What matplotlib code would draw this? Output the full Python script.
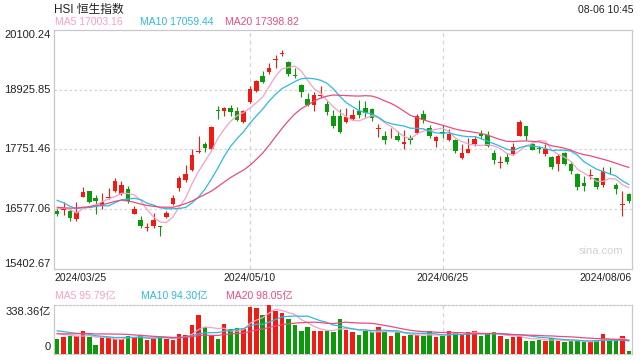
import matplotlib
matplotlib.use("Agg")
import matplotlib.pyplot as plt
import numpy as np
import pandas as pd

plt.rcParams["font.family"] = ["Liberation Sans", "Noto Sans CJK SC", "DejaVu Sans"]

# 19 sessions before the first candle, only used to warm up the moving averages
prior_close = [16790, 16536, 16511, 16589, 16596, 16163, 16438, 16230, 16353, 16588,
               17093, 17082, 16961, 16721, 16737, 16529, 16543, 16863, 16499]
prior_vol = [110, 125, 115, 120, 118, 122, 112, 125, 120, 113,
             170, 185, 175, 180, 170, 160, 150, 155, 152]

# daily candles 2024/03/25 .. 2024/08/06 (open, high, low, close), volume in 亿
opens = [16545, 16564, 16545, 16381, 16818, 16930, 16792, 16642, 16800, 16936,
         16884, 16981, 16492, 16362, 16205, 16251, 16251, 16434, 16675, 16988,
         17151, 17347, 17705, 17850, 17765, 18535, 18502, 18567, 18515, 18300,
         18678, 18906, 19200, 19265, 19515, 19636, 19474, 19220, 19024, 18750,
         18619, 18800, 18652, 18417, 18417, 18287, 18352, 18502, 18574, 18548,
         18160, 18026, 18068, 18026, 17850, 17973, 18078, 18450, 18176, 17915,
         18085, 17934, 17947, 17588, 17686, 17869, 18065, 18045, 17673, 17485,
         17608, 17654, 18026, 18208, 17850, 17778, 17654, 17608, 17458, 17673,
         17458, 17269, 17086, 17225, 17197, 17047, 17308, 17047, 16670, 16871]
highs = [16610, 16720, 16577, 16720, 17008, 16935, 16858, 16903, 16988, 17190,
         17132, 17034, 16642, 16447, 16316, 16512, 16255, 16544, 16851, 17230,
         17438, 17752, 18026, 17908, 18221, 18613, 18587, 18632, 18580, 18535,
         18991, 19122, 19304, 19461, 19611, 19709, 19500, 19350, 19030, 18861,
         18874, 18991, 18697, 18535, 18548, 18567, 18548, 18730, 18710, 18567,
         18260, 18110, 18169, 18110, 18130, 18045, 18456, 18535, 18241, 18026,
         18241, 18156, 17960, 17869, 17980, 18013, 18143, 18110, 17739, 17621,
         17673, 17882, 18326, 18221, 17895, 17817, 17869, 17621, 17654, 17700,
         17523, 17282, 17230, 17360, 17200, 17412, 17412, 17086, 16936, 16903]
lows = [16447, 16460, 16349, 16349, 16810, 16694, 16492, 16577, 16773, 16916,
        16858, 16708, 16479, 16218, 16153, 16218, 16055, 16414, 16662, 16936,
        17112, 17328, 17686, 17700, 17752, 18352, 18404, 18417, 18306, 18274,
        18665, 18874, 19056, 19245, 19350, 19590, 19187, 19154, 18782, 18600,
        18515, 18763, 18437, 18169, 18078, 18274, 18326, 18371, 18391, 18306,
        18000, 17850, 17973, 17928, 17765, 17869, 18065, 18274, 17980, 17797,
        17980, 17915, 17686, 17569, 17673, 17817, 17960, 17804, 17458, 17393,
        17458, 17634, 18013, 17947, 17732, 17673, 17621, 17373, 17321, 17438,
        17262, 16955, 16936, 17164, 16981, 17021, 17262, 16884, 16447, 16694]
closes = [16492, 16597, 16401, 16525, 16916, 16727, 16747, 16714, 16808, 17125,
          17060, 16734, 16577, 16251, 16215, 16362, 16231, 16512, 16805, 17184,
          17262, 17634, 17713, 17784, 18195, 18502, 18567, 18489, 18326, 18502,
          18939, 19089, 19069, 19350, 19526, 19644, 19233, 19193, 18874, 18619,
          18815, 18808, 18482, 18221, 18091, 18384, 18437, 18437, 18469, 18365,
          18169, 17941, 18078, 17947, 17908, 17947, 18417, 18339, 18026, 18006,
          18072, 18065, 17719, 17686, 17752, 17967, 18026, 17817, 17543, 17491,
          17504, 17804, 18287, 18026, 17739, 17771, 17752, 17406, 17621, 17458,
          17328, 17014, 17034, 17230, 17021, 17328, 17302, 16969, 16675, 16740]
volumes = [103, 115, 122, 122, 161, 115, 64, 115, 115, 106,
           106, 126, 115, 133, 99, 106, 115, 106, 99, 140,
           133, 202, 271, 184, 122, 103, 209, 175, 182, 172,
           322, 315, 267, 338.36, 299, 283, 244, 202, 161, 184,
           161, 156, 156, 150, 244, 168, 150, 129, 156, 150,
           184, 156, 122, 150, 122, 129, 133, 122, 156, 115,
           122, 156, 150, 133, 150, 161, 122, 138, 150, 122,
           106, 115, 122, 92, 92, 99, 87, 110, 92, 81,
           87, 94, 81, 81, 99, 140, 87, 87, 126, 23]

tick_idx = [0, 30, 60, 89]
tick_labels = ["2024/03/25", "2024/05/10", "2024/06/25", "2024/08/06"]
price_ticks = [20100.24, 18925.85, 17751.46, 16577.06, 15402.67]
vol_top_label = "338.36亿"
ma_price_text = ["MA5 17003.16", "MA10 17059.44", "MA20 17398.82"]
ma_vol_text = ["MA5 95.79亿", "MA10 94.30亿", "MA20 98.05亿"]

RED, GREEN = "#f01c14", "#0c9a0c"
MA_COLORS = ["#f7a1c4", "#2cbadf", "#ea4c7e"]
GRID = "#d4d4d4"
SPINE = "#c8c8c8"

o, h, l, c = (np.array(a, float) for a in (opens, highs, lows, closes))
vol = np.array(volumes, float)
n = len(c)
x = np.arange(n)
cols = np.where(c >= o, RED, GREEN)

npre = len(prior_close)
cs = pd.Series(prior_close + closes, dtype=float)
vs = pd.Series(prior_vol + volumes, dtype=float)
ma_price = [cs.rolling(w).mean().to_numpy()[npre:] for w in (5, 10, 20)]
ma_vol = [vs.rolling(w).mean().to_numpy()[npre:] for w in (5, 10, 20)]

fig = plt.figure(figsize=(6.4, 3.6), dpi=100)
ax = fig.add_axes([54 / 640, 1 - 269 / 360, 578 / 640, 239 / 360])
axv = fig.add_axes([54 / 640, 1 - 354 / 360, 578 / 640, 49 / 360])

# ---- price panel ----
ax.vlines(x, l, h, colors=cols, lw=0.8, zorder=3)
body = np.maximum(np.abs(c - o), 16)
ax.bar(x, body, bottom=np.minimum(o, c), width=0.7, color=cols, lw=0, zorder=3)
for ma, col in zip(ma_price, MA_COLORS):
    ax.plot(x, ma, color=col, lw=0.9, zorder=4)

ymin, ymax = price_ticks[-1], price_ticks[0]
ax.set_xlim(-0.5, n - 0.5)
ax.set_ylim(ymin, ymax)
for t in price_ticks[1:-1]:
    ax.axhline(t, color=GRID, lw=0.9, ls=(0, (2, 2)), zorder=1)
for i in tick_idx[1:-1]:
    ax.axvline(i, color=GRID, lw=0.9, ls=(0, (3, 3)), zorder=1)
    axv.axvline(i, color=GRID, lw=0.9, ls=(0, (3, 3)), zorder=1)

ytr = ax.get_yaxis_transform()
for k, t in enumerate(price_ticks):
    va = "top" if k == 0 else ("bottom" if k == len(price_ticks) - 1 else "center")
    ax.text(-0.006, t, f"{t:.2f}", transform=ytr, ha="right", va=va,
            fontsize=8, color="#222222")

xtr = ax.get_xaxis_transform()
for k, (i, lab) in enumerate(zip(tick_idx, tick_labels)):
    if k == 0:
        ha, xi = "left", -0.5
    elif k == len(tick_idx) - 1:
        ha, xi = "right", n - 0.5
    else:
        ha, xi = "center", i
    ax.text(xi, -0.038, lab, transform=xtr, ha=ha, va="center",
            fontsize=7.5, color="#222222")

ax.text(0.947, 0.075, "sina.com", transform=ax.transAxes, ha="center",
        va="center", fontsize=8, color="#d2d2d2")

# ---- volume panel ----
axv.bar(x, vol, width=0.7, color=cols, lw=0, zorder=3)
for ma, col in zip(ma_vol, MA_COLORS):
    axv.plot(x, ma, color=col, lw=0.9, zorder=4)
axv.set_xlim(-0.5, n - 0.5)
axv.set_ylim(0, vol.max())
vtr = axv.get_yaxis_transform()
axv.text(-0.006, 0.97, vol_top_label, transform=axv.transAxes, ha="right",
         va="top", fontsize=8, color="#222222")
axv.text(-0.006, 0.04, "0", transform=axv.transAxes, ha="right",
         va="bottom", fontsize=8, color="#222222")

for a in (ax, axv):
    a.set_xticks([])
    a.set_yticks([])
    for s in a.spines.values():
        s.set_color(SPINE)
        s.set_linewidth(0.9)
for s in ("top", "bottom"):
    axv.spines[s].set_linestyle((0, (1.5, 1.5)))

# ---- header texts ----
fig.text(54 / 640, 1 - 10 / 360, "HSI 恒生指数", fontsize=8.5, color="#222222",
         va="center", ha="left")
fig.text(633 / 640, 1 - 10 / 360, "08-06 10:45", fontsize=7.5, color="#222222",
         va="center", ha="right")
for txt, col, px in zip(ma_price_text, MA_COLORS, (55, 140, 225)):
    fig.text(px / 640, 1 - 22 / 360, txt, fontsize=7.5, color=col, va="center")
for txt, col, px in zip(ma_vol_text, MA_COLORS, (55, 141, 226)):
    fig.text(px / 640, 1 - 296 / 360, txt, fontsize=7.5, color=col, va="center")

fig.savefig("out.png", dpi=100)
